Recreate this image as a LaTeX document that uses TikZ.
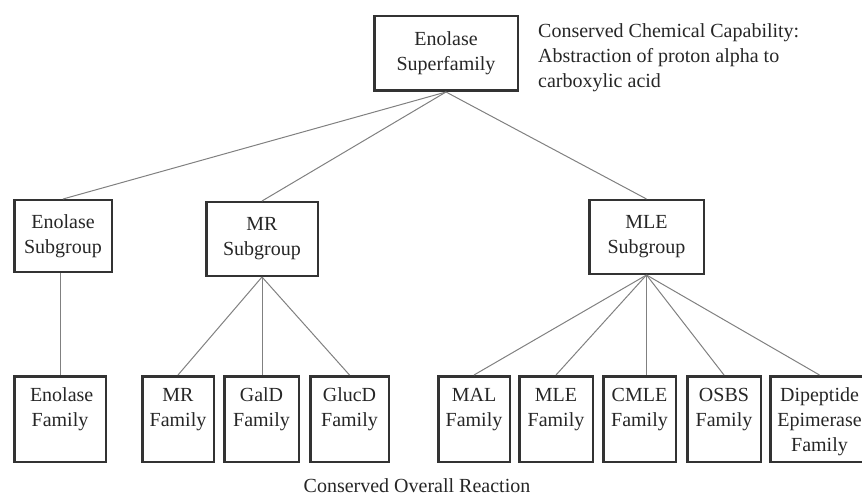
\documentclass[tikz,border=0pt]{standalone}
\usepackage{fontspec}
\setmainfont{Liberation Serif}
\begin{document}
\begin{tikzpicture}[x=1pt,y=-1pt,line cap=butt,line join=miter,font=\fontsize{20}{25}\selectfont]
	\tikzset{box/.style={draw=black!80,line width=2.5pt,text=black!85,align=center,inner sep=2pt},
		fam/.style={box,text width=60pt,text height=21pt,text depth=56pt,inner xsep=3pt,inner ysep=4pt,minimum height=85.5},
		link/.style={draw=black!50,line width=1pt}}
	\useasboundingbox (0,0) rectangle (862,497);
	%--------- Superfamily
	\node[box,minimum width=143.5,minimum height=74.5] (sup) at (446,53.5) {Enolase\\Superfamily};
	\node[anchor=north west,align=left,inner sep=0pt,text=black!85] (cap) at (538,23.3)
		{Conserved Chemical Capability:\\Abstraction of proton alpha to\\carboxylic acid};
	%--------- Subgroups
	\node[box,minimum width=97.5,minimum height=71.5] (ens) at (63,236) {Enolase\\Subgroup};
	\node[box,minimum width=111.5,minimum height=73.5] (mrs) at (262,239) {MR\\Subgroup};
	\node[box,minimum width=114.5,minimum height=73.5] (mles) at (646.5,237) {MLE\\Subgroup};
	%--------- Families
	\node[fam,minimum width=91.5] (enf) at (60,419) {Enolase\\Family};
	\node[fam,minimum width=71.5] (mrf) at (178,419) {MR\\Family};
	\node[fam,minimum width=74.5] (galdf) at (261.5,419) {GalD\\Family};
	\node[fam,minimum width=78.5] (glucdf) at (349.5,419) {GlucD\\Family};
	\node[fam,minimum width=71.5] (malf) at (474,419) {MAL\\Family};
	\node[fam,minimum width=73.5] (mlef) at (556,419) {MLE\\Family};
	\node[fam,minimum width=72.5] (cmlef) at (639.5,419) {CMLE\\Family};
	\node[fam,minimum width=73.5] (osbsf) at (724,419) {OSBS\\Family};
	\node[fam,text width=90pt,minimum width=98.5] (dipf) at (819.5,419) {Dipeptide\\Epimerase\\Family};
	\node[anchor=base,inner sep=0pt,text=black!85] (rxn) at (417,492.5) {Conserved Overall Reaction};
	%--------- Links
	\foreach \s in {ens,mrs,mles} \draw[link] (sup.south) -- (\s.north);
	\draw[link] (enf.north) -- (enf.north |- ens.south);
	\foreach \f in {mrf,glucdf} \draw[link] (mrs.south) -- (\f.north);
	\draw[link] (mrs.south) -- (mrs.south |- galdf.north);
	\foreach \f in {malf,mlef,osbsf,dipf} \draw[link] (mles.south) -- (\f.north);
	\draw[link] (mles.south) -- (mles.south |- cmlef.north);
\end{tikzpicture}
\end{document}
